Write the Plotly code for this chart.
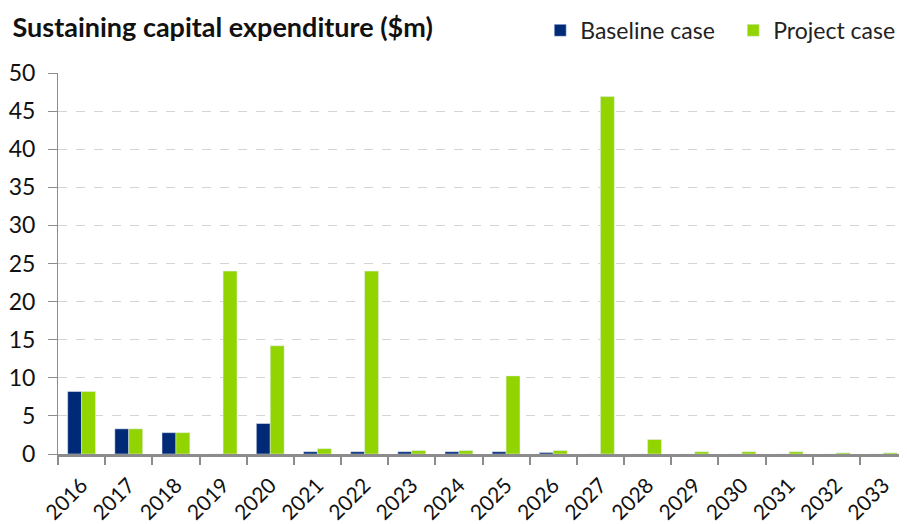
import plotly.graph_objects as go

years = [str(y) for y in range(2016, 2034)]
baseline = [8.2, 3.3, 2.8, 0, 4.0, 0.3, 0.3, 0.3, 0.3, 0.3, 0.2, 0, 0, 0, 0, 0, 0, 0]
project = [8.2, 3.3, 2.8, 24.0, 14.2, 0.7, 24.0, 0.45, 0.45, 10.25, 0.45, 46.9, 1.9, 0.3, 0.3, 0.3, 0.15, 0.15]

FONT = "Lato, Carlito, 'Open Sans', sans-serif"

fig = go.Figure()
fig.add_trace(go.Bar(x=years, y=baseline, name="Baseline case", marker_color="#002A78"))
fig.add_trace(go.Bar(x=years, y=project, name="Project case", marker_color="#92D400"))

# page body has an 8px margin; size the figure so it fills the 907x524 window
fig.update_layout(
    width=899, height=516,
    margin=dict(l=50, r=0, t=65, b=70, autoexpand=False),
    paper_bgcolor="white", plot_bgcolor="white",
    barmode="group", bargap=0.41, bargroupgap=0,
    font=dict(family=FONT, size=21, color="#222"),
    title=dict(text="<b>Sustaining capital expenditure ($m)</b>", x=0.005, xanchor="left",
               y=0.963, yanchor="middle", font=dict(size=27, color="#111", family=FONT)),
    legend=dict(orientation="h", x=0.568, xanchor="left", y=1.112, yanchor="middle",
                font=dict(size=23, color="#222"), bgcolor="rgba(0,0,0,0)",
                entrywidth=148, entrywidthmode="pixels", traceorder="normal"),
    xaxis=dict(type="category", tickangle=-45, showline=True, linecolor="#8c8c8c", linewidth=2.5,
               ticks="outside", tickson="boundaries", ticklen=8, tickcolor="#8c8c8c", tickwidth=2,
               showgrid=False, tickfont=dict(size=21, color="#111"), ticklabelstandoff=8,
               automargin=False),
    yaxis=dict(range=[0, 50], dtick=5, showline=True, linecolor="#8c8c8c", linewidth=1,
               ticks="outside", ticklen=9, tickcolor="#8c8c8c", ticklabelstandoff=8,
               showgrid=True, gridcolor="#d4d4d4", griddash="dash", gridwidth=1,
               zeroline=False, tickfont=dict(size=23, color="#111"), automargin=False),
)

fig.write_html("out.html")
